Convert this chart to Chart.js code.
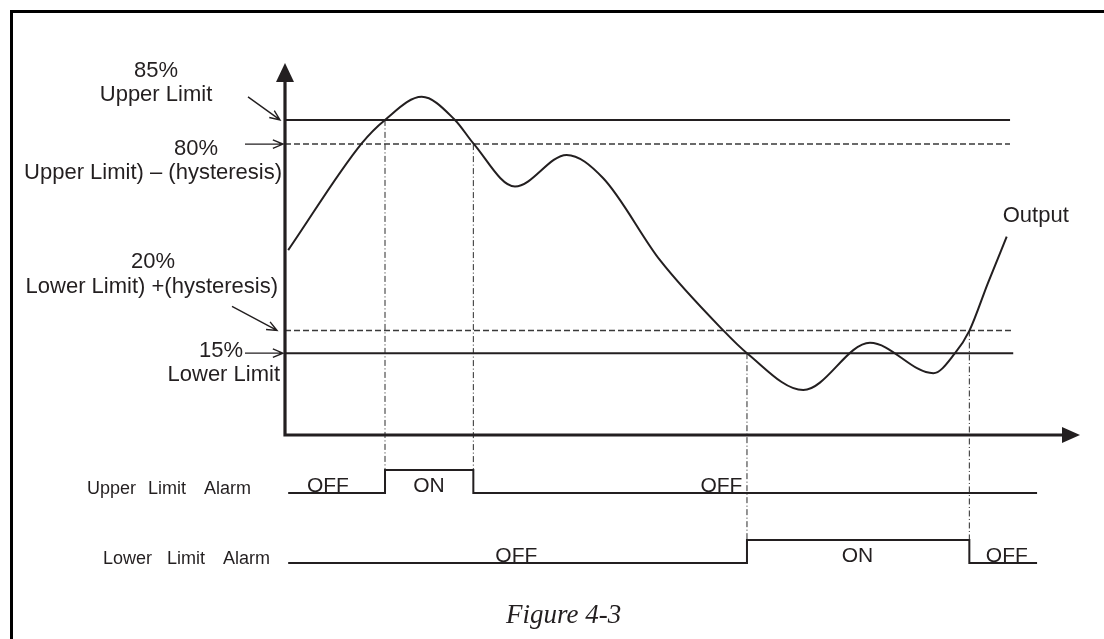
<!DOCTYPE html>
<html>
<head>
<meta charset="utf-8">
<script src="https://cdn.jsdelivr.net/npm/chart.js@4.4.1/dist/chart.umd.min.js"></script>
<style>
    html, body { margin: 0; padding: 0; background: #fff; }
    #wrap { position: relative; width: 1104px; height: 639px; overflow: hidden; }
</style>
</head>
<body>
<div id="wrap"><canvas id="limitChart" width="1104" height="639"></canvas></div>
<script>
// output signal: time 0..100 along the x axis, level in plot units (x axis = 0)
var outputTime  = [0.4, 9.65, 12.58, 17.2, 21.38, 23.69, 28.93, 35.43, 40.0, 47.17, 55.09, 58.11,
                   65.19, 73.58, 81.55, 84.28, 86.08, 88.43, 90.78];
var outputLevel = [49.7, 78.4, 84.7, 90.9, 84.7, 78.4, 66.8, 75.3, 69.1, 47.0, 28.2, 22.0,
                   12.1, 24.8, 16.6, 22.0, 28.0, 40.9, 53.3];

// limit lines (upper limit, upper - hysteresis, lower + hysteresis, lower limit)
var limitNames  = ["85%", "80%", "20%", "15%"];
var limitLevels = [84.7, 78.2, 28.1, 22.0];
var limitEnds   = [91.2, 91.2, 91.6, 91.6];

// alarm rows: switching times and states between them
var upperAlarmEdges  = [0.4, 12.58, 23.69, 94.6];
var upperAlarmStates = ["OFF", "ON", "OFF"];
var lowerAlarmEdges  = [0.4, 58.11, 86.08, 94.6];
var lowerAlarmStates = ["OFF", "ON", "OFF"];
// [off level, on level] for each row
var upperAlarmLevels = [-15.6, -9.4];
var lowerAlarmLevels = [-34.4, -28.2];

var ink = "#231f20";

function alarmSteps(edges, states, levels) {
    var pts = [];
    for (var i = 0; i < edges.length; i++) {
        var st = states[Math.min(i, states.length - 1)];
        pts.push({x: edges[i], y: st === "ON" ? levels[1] : levels[0]});
    }
    return pts;
}

function lineSet(points, width, dash, color) {
    return {
        data: points,
        showLine: true,
        borderColor: color || ink,
        borderWidth: width,
        borderDash: dash || [],
        pointRadius: 0,
        fill: false
    };
}

var datasets = [];

// output curve
var outPts = [];
for (var i = 0; i < outputTime.length; i++) {
    outPts.push({x: outputTime[i], y: outputLevel[i]});
}
var outSet = lineSet(outPts, 2);
outSet.cubicInterpolationMode = "monotone";
datasets.push(outSet);

// limit lines, hysteresis ones dashed
for (var j = 0; j < limitLevels.length; j++) {
    var hyst = (j === 1 || j === 2);
    datasets.push(lineSet([{x: 0, y: limitLevels[j]}, {x: limitEnds[j], y: limitLevels[j]}],
        hyst ? 1.5 : 2, hyst ? [6, 3] : [], hyst ? "#3a3a3a" : ink));
}

// switching guide lines (dash-dot) from the limit crossing down to the alarm pulse
var switchLines = [
    [upperAlarmEdges[1], limitLevels[0], upperAlarmLevels[1]],
    [upperAlarmEdges[2], limitLevels[1], upperAlarmLevels[1]],
    [lowerAlarmEdges[1], limitLevels[3], lowerAlarmLevels[1]],
    [lowerAlarmEdges[2], limitLevels[2], lowerAlarmLevels[1]]
];
switchLines.forEach(function (s) {
    datasets.push(lineSet([{x: s[0], y: s[1]}, {x: s[0], y: s[2]}], 1, [6, 2.5, 1, 2.5], "#2a2a2a"));
});

// alarm rows
var upSet = lineSet(alarmSteps(upperAlarmEdges, upperAlarmStates, upperAlarmLevels), 2);
upSet.stepped = true;
datasets.push(upSet);
var lowSet = lineSet(alarmSteps(lowerAlarmEdges, lowerAlarmStates, lowerAlarmLevels), 2);
lowSet.stepped = true;
datasets.push(lowSet);

function pointer(ctx, x1, y1, x2, y2) {
    var ang = Math.atan2(y2 - y1, x2 - x1);
    var hl = 11;
    ctx.beginPath();
    ctx.moveTo(x1, y1);
    ctx.lineTo(x2, y2);
    ctx.moveTo(x2 - hl * Math.cos(ang - 0.4), y2 - hl * Math.sin(ang - 0.4));
    ctx.lineTo(x2, y2);
    ctx.lineTo(x2 - hl * Math.cos(ang + 0.4), y2 - hl * Math.sin(ang + 0.4));
    ctx.stroke();
}

function txt(ctx, s, x, y, align) {
    ctx.textAlign = align || "center";
    ctx.fillText(s, x, y);
}

var decor = {
    id: "decor",
    beforeDraw: function (chart) {
        var ctx = chart.ctx;
        ctx.save();
        ctx.fillStyle = "#fff";
        ctx.fillRect(0, 0, chart.width, chart.height);
        // figure frame (left + top)
        ctx.strokeStyle = "#000";
        ctx.lineWidth = 3;
        ctx.beginPath();
        ctx.moveTo(11.5, chart.height + 2);
        ctx.lineTo(11.5, 11.5);
        ctx.lineTo(chart.width + 2, 11.5);
        ctx.stroke();
        ctx.restore();
    },
    afterDatasetsDraw: function (chart) {
        var ctx = chart.ctx;
        var xs = chart.scales.x, ys = chart.scales.y;
        var x0 = xs.getPixelForValue(0), y0 = ys.getPixelForValue(0);
        var yTop = ys.getPixelForValue(100), xEnd = xs.getPixelForValue(100);
        ctx.save();
        ctx.strokeStyle = ink;
        ctx.fillStyle = ink;

        // axes with arrow heads
        ctx.lineWidth = 3.2;
        ctx.beginPath();
        ctx.moveTo(x0, y0 + 1.6);
        ctx.lineTo(x0, yTop + 15);
        ctx.moveTo(x0 - 1.6, y0);
        ctx.lineTo(xEnd - 15, y0);
        ctx.stroke();
        ctx.beginPath();
        ctx.moveTo(x0, yTop);
        ctx.lineTo(x0 - 9, yTop + 19);
        ctx.lineTo(x0 + 9, yTop + 19);
        ctx.closePath();
        ctx.fill();
        ctx.beginPath();
        ctx.moveTo(xEnd, y0);
        ctx.lineTo(xEnd - 18, y0 - 8);
        ctx.lineTo(xEnd - 18, y0 + 8);
        ctx.closePath();
        ctx.fill();

        // pointers to the limit lines
        var py = limitLevels.map(function (v) { return ys.getPixelForValue(v); });
        ctx.lineWidth = 1.4;
        pointer(ctx, 248, py[0] - 23, x0 - 5, py[0]);
        pointer(ctx, 245, py[1], x0 - 2, py[1]);
        pointer(ctx, 232, py[2] - 24, x0 - 8, py[2]);
        pointer(ctx, 245, py[3], x0 - 2, py[3]);

        // limit labels
        ctx.font = '22px "Liberation Sans", Arial, sans-serif';
        txt(ctx, limitNames[0], 156, py[0] - 43);
        txt(ctx, "Upper Limit", 156, py[0] - 19);
        txt(ctx, limitNames[1], 196, py[1] + 11);
        txt(ctx, "Upper Limit) \u2013 (hysteresis)", 282, py[1] + 35, "right");
        txt(ctx, limitNames[2], 153, py[2] - 62);
        txt(ctx, "Lower Limit) +(hysteresis)", 278, py[2] - 37, "right");
        txt(ctx, limitNames[3], 243, py[3] + 4, "right");
        txt(ctx, "Lower Limit", 280, py[3] + 28, "right");
        txt(ctx, "Output", xs.getPixelForValue(outputTime[outputTime.length - 1]) - 4, ys.getPixelForValue(outputLevel[outputLevel.length - 1]) - 15, "left");

        // alarm row names, word by word as in the original spacing
        ctx.font = '18px "Liberation Sans", Arial, sans-serif';
        var upY = ys.getPixelForValue(upperAlarmLevels[0]);
        var lowY = ys.getPixelForValue(lowerAlarmLevels[0]);
        var upWords = ["Upper", "Limit", "Alarm"], upWx = [87, 148, 204];
        var lowWords = ["Lower", "Limit", "Alarm"], lowWx = [103, 167, 223];
        for (var w = 0; w < 3; w++) {
            txt(ctx, upWords[w], upWx[w], upY + 1, "left");
            txt(ctx, lowWords[w], lowWx[w], lowY + 1, "left");
        }

        // state labels
        ctx.font = '21px "Liberation Sans", Arial, sans-serif';
        var upAt = [5.4, 18.1, 54.9];
        var lowAt = [29.1, 72.0, 90.8];
        upperAlarmStates.forEach(function (s, k) { txt(ctx, s, xs.getPixelForValue(upAt[k]), upY - 1); });
        lowerAlarmStates.forEach(function (s, k) { txt(ctx, s, xs.getPixelForValue(lowAt[k]), lowY - 1); });

        // caption
        ctx.font = 'italic 27px "Liberation Serif", "Times New Roman", serif';
        txt(ctx, "Figure 4-3", 506, 623, "left");
        ctx.restore();
    }
};

new Chart(document.getElementById("limitChart"), {
    type: "scatter",
    data: { datasets: datasets },
    options: {
        responsive: false,
        animation: false,
        devicePixelRatio: 1,
        layout: { padding: { left: 285, right: 24, top: 63, bottom: 18 } },
        plugins: { legend: { display: false }, tooltip: { enabled: false } },
        scales: {
            x: { type: "linear", min: 0, max: 100, display: false },
            y: { type: "linear", min: -50, max: 100, display: false }
        }
    },
    plugins: [decor]
});
</script>
</body>
</html>
